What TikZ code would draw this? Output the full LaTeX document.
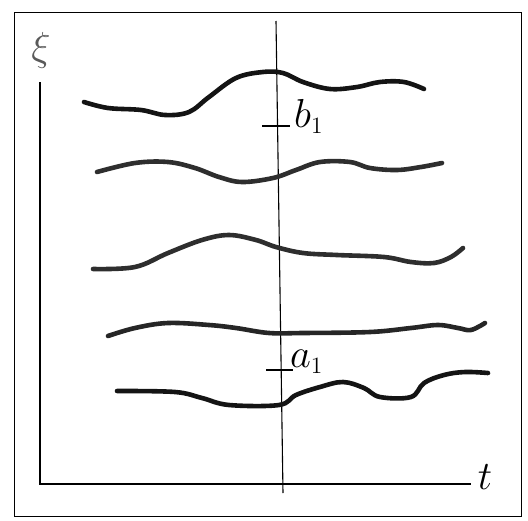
\documentclass[tikz,border=0pt]{standalone}
\newcommand{\biglbl}[1]{\scalebox{1.95}{\huge #1}}
\begin{document}
\begin{tikzpicture}[x=1pt,y=-1pt,
  wave/.style={line width=4.6pt,line cap=round,line join=round},
  axis/.style={line width=1.2pt},
  lbl/.style={inner sep=0pt}]
\useasboundingbox (0,0) rectangle (528,520);
\draw[line width=1pt] (14,12) rectangle (521,516);
% axes
\coordinate (O) at (40,484);
\coordinate (Ytop) at (40,82);
\coordinate (Xend) at (471,484);
\draw[axis] (Ytop) -- (O) -- (Xend);
\node[lbl,text=black!65] (xi) at (41,50) {\biglbl{$\xi$}};
\node[lbl] (t) at (485,477) {\biglbl{$t$}};
% vertical line
\coordinate (Vt) at (276,21);
\coordinate (Vb) at (283,493);
\draw[line width=1.1pt] (Vt) -- (Vb);
% ticks
\coordinate (b1l) at (262,126); \coordinate (b1r) at (290,126);
\coordinate (a1l) at (266,370); \coordinate (a1r) at (293,370);
\draw[line width=1.1pt] (b1l) -- (b1r);
\draw[line width=1.1pt] (a1l) -- (a1r);
\node[lbl,anchor=west] (b1) at (294,116) {\biglbl{$b_{\scriptscriptstyle 1}$}};
\node[lbl,anchor=west] (a1) at (290,362) {\biglbl{$a_{\scriptscriptstyle 1}$}};
% curves
\draw[wave,black!92] plot[smooth,tension=0.6] coordinates {(84,102) (108,108) (141,110) (165,115) (189,112) (209,97) (236,78) (263,72) (283,73) (303,82) (330,89) (357,87) (380,82) (404,82) (424,89)};
\draw[wave,black!82] plot[smooth,tension=0.6] coordinates {(97,172) (135,163) (168,162) (195,168) (219,177) (242,182) (273,178) (296,170) (320,162) (350,162) (370,168) (397,170) (421,167) (442,163)};
\draw[wave,black!82] plot[smooth,tension=0.6] coordinates {(93,269) (135,267) (168,253) (202,240) (229,235) (256,240) (276,247) (303,253) (337,255) (384,257) (411,262) (434,263) (451,257) (463,248)};
\draw[wave,black!85] plot[smooth,tension=0.6] coordinates {(108,336) (135,328) (168,323) (209,325) (236,328) (269,333) (303,333) (370,332) (411,328) (438,325) (458,328) (471,330) (485,323)};
\draw[wave,black!92] plot[smooth,tension=0.6] coordinates {(117,391) (175,392) (202,398) (229,405) (279,405) (296,395) (320,387) (343,382) (364,388) (380,397) (411,397) (424,383) (444,375) (465,372) (488,373)};
\end{tikzpicture}
\end{document}
